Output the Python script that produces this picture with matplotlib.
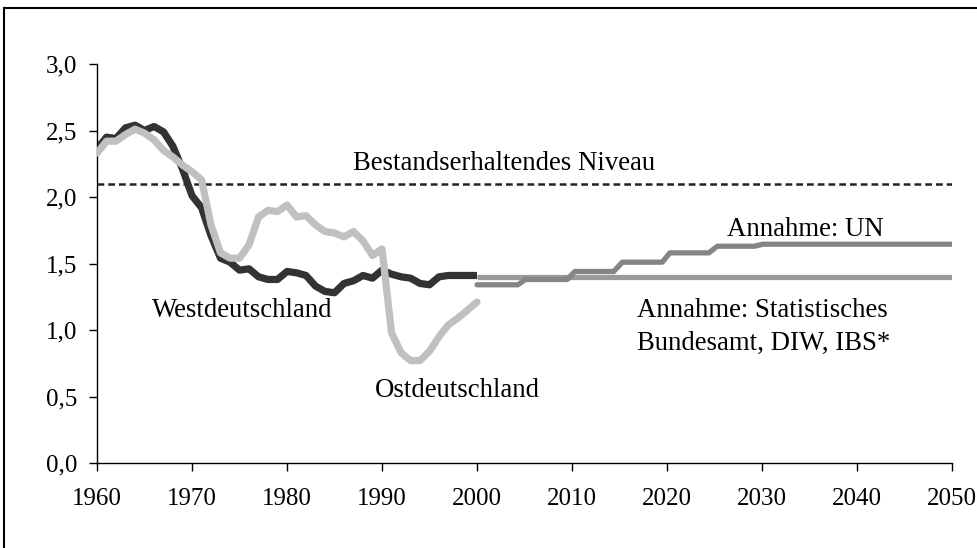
import matplotlib
matplotlib.use('Agg')
import matplotlib.pyplot as plt
from matplotlib.ticker import FuncFormatter, MultipleLocator
from matplotlib.patches import Rectangle

plt.rcParams['font.family'] = ['Liberation Serif', 'DejaVu Serif']

# Zusammengefasste Geburtenziffer, 1960-2000
YEARS = list(range(1960, 2001))
WEST = [2.36, 2.45, 2.44, 2.52, 2.54, 2.50, 2.53, 2.49, 2.38, 2.21,
        2.01, 1.92, 1.71, 1.54, 1.51, 1.45, 1.46, 1.40, 1.38, 1.38,
        1.44, 1.43, 1.41, 1.33, 1.29, 1.28, 1.35, 1.37, 1.41, 1.39,
        1.45, 1.42, 1.40, 1.39, 1.35, 1.34, 1.40, 1.41, 1.41, 1.41, 1.41]
OST = [2.33, 2.42, 2.42, 2.47, 2.51, 2.48, 2.43, 2.35, 2.30, 2.24,
       2.19, 2.13, 1.79, 1.58, 1.54, 1.54, 1.64, 1.85, 1.90, 1.89,
       1.94, 1.85, 1.86, 1.79, 1.74, 1.73, 1.70, 1.74, 1.67, 1.56,
       1.61, 0.98, 0.83, 0.77, 0.77, 0.84, 0.95, 1.04, 1.09, 1.15, 1.21]

# Annahmen 2000-2050
UN_YEARS = [2000, 2004.3, 2005.1, 2009.5, 2010.3, 2014.4, 2015.3,
            2019.5, 2020.3, 2024.4, 2025.3, 2029.2, 2030.1, 2050]
UN_VALS = [1.34, 1.34, 1.38, 1.38, 1.44, 1.44, 1.51,
           1.51, 1.58, 1.58, 1.63, 1.63, 1.645, 1.645]
STAT_YEARS = [2000, 2050]
STAT_VALS = [1.40, 1.40]
REPL_LEVEL = 2.1

fig = plt.figure(figsize=(9.77, 5.48), dpi=100)
fig.patches.append(Rectangle((4 / 977, -0.1), 1.1, 1 - 8 / 548 + 0.1,
                             transform=fig.transFigure, fill=False,
                             edgecolor='black', linewidth=1.5))
ax = fig.add_axes([0.0993, 0.1551, 0.8751, 0.7281])

ax.plot([1960, 2050], [REPL_LEVEL, REPL_LEVEL], color='#222222',
        linestyle=(0, (2.7, 1.6)), linewidth=1.8)
ax.plot(YEARS, OST, color='#c0c0c0', linewidth=5.2, solid_capstyle='round',
        solid_joinstyle='round', zorder=3)
ax.plot(YEARS, WEST, color='#333333', linewidth=5.2, solid_capstyle='butt',
        solid_joinstyle='round', zorder=2)
ax.plot(STAT_YEARS, STAT_VALS, color='#9a9a9a', linewidth=3.8,
        solid_capstyle='butt', zorder=2)
ax.plot(UN_YEARS, UN_VALS, color='#858585', linewidth=3.8,
        solid_capstyle='round', zorder=2)

fs = 18
afs = 19.3
ax.text(2002.8, 2.20, 'Bestandserhaltendes Niveau', ha='center',
        va='baseline', fontsize=afs)
ax.text(1965.8, 1.10, 'Westdeutschland', ha='left', va='baseline', fontsize=afs)
ax.text(1989.3, 0.50, 'Ostdeutschland', ha='left', va='baseline', fontsize=afs)
ax.text(2026.3, 1.71, 'Annahme: UN', ha='left', va='baseline', fontsize=afs)
ax.text(2016.8, 1.10, 'Annahme: Statistisches', ha='left', va='baseline',
        fontsize=afs)
ax.text(2016.8, 0.85, 'Bundesamt, DIW, IBS*', ha='left', va='baseline',
        fontsize=afs)

ax.set_xlim(1960, 2050)
ax.set_ylim(0, 3.0)
ax.set_xticks(range(1960, 2051, 10))
ax.yaxis.set_major_locator(MultipleLocator(0.5))
ax.yaxis.set_major_formatter(FuncFormatter(lambda v, p: f'{v:.1f}'.replace('.', ',')))
ax.tick_params(axis='x', direction='out', length=6, width=1, pad=12,
               labelsize=fs)
ax.tick_params(axis='y', direction='out', length=6, width=1, pad=8,
               labelsize=fs)
for s in ['top', 'right']:
    ax.spines[s].set_visible(False)
for s in ['left', 'bottom']:
    ax.spines[s].set_linewidth(1)

fig.savefig('out.png', dpi=100)
